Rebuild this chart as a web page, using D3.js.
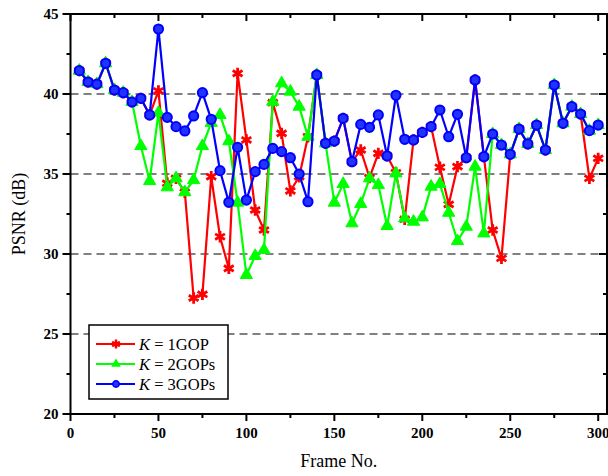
<!DOCTYPE html>
<html>
<head>
<meta charset="utf-8">
<script src="https://cdn.jsdelivr.net/npm/d3@7"></script>
<style>
  html, body { margin: 0; padding: 0; background: #fff; }
  svg { display: block; }
</style>
</head>
<body>
<svg id="chart" width="608" height="476"></svg>
<script>
const frames = [5,10,15,20,25,30,35,40,45,50,55,60,65,70,75,80,85,90,95,100,
  105,110,115,120,125,130,135,140,145,150,155,160,165,170,175,180,185,190,195,200,
  205,210,215,220,225,230,235,240,245,250,255,260,265,270,275,280,285,290,295,300];

const k1 = [41.46,40.75,40.62,41.92,40.25,40.08,39.5,39.73,38.69,40.19,
  34.42,34.73,33.86,27.25,27.48,34.83,31.08,29.1,41.29,37.13,
  32.75,31.5,39.46,37.54,33.94,34.83,37.33,41.19,36.92,37.06,
  38.48,35.77,36.5,34.77,36.29,36.13,35.08,32.17,37.13,37.6,
  37.96,35.42,33.1,35.46,36.02,40.88,36.08,31.5,29.73,36.23,
  37.81,36.88,38.06,36.5,40.56,38.17,39.21,38.75,34.73,35.98];

const k2 = [41.46,40.75,40.62,41.92,40.25,40.08,39.5,36.75,34.56,38.83,
  34.17,34.73,33.86,34.62,36.75,38.2,38.69,37.05,33.21,28.69,
  29.88,30.25,39.52,40.67,40.15,39.21,37.33,41.19,36.92,33.21,
  34.38,31.92,33.13,34.73,34.31,31.75,35.04,32.23,32.02,32.29,
  34.21,34.38,32.58,30.81,31.71,35.46,31.29,37.5,36.81,36.23,
  37.81,36.88,38.06,36.5,40.56,38.17,39.21,38.75,37.71,38.06];

const k3 = [41.46,40.75,40.62,41.92,40.25,40.08,39.5,39.73,38.69,44.06,
  38.54,37.96,37.69,38.63,40.08,38.42,35.21,33.23,36.67,33.37,
  35.15,35.6,36.6,36.4,36.02,35.0,33.27,41.19,36.92,37.06,
  38.48,35.77,38.1,37.92,38.69,36.13,39.92,37.17,37.13,37.6,
  37.96,39.0,37.33,38.73,36.02,40.88,36.08,37.5,36.81,36.23,
  37.81,36.88,38.06,36.5,40.56,38.17,39.21,38.75,37.71,38.06];

const xTickLabels = [0,50,100,150,200,250,300];
const xMinorTicks = [25,75,125,175,225,275];
const yTickLabels = [20,25,30,35,40,45];
const yMinorTicks = [22.5,27.5,32.5,37.5,42.5];
const gridValues = [25,30,35,40];
const seriesNames = ["1GOP","2GOPs","3GOPs"];
const seriesColors = ["#ff0000","#00ff00","#0000ff"];
const xTitle = "Frame No.";
const yTitle = "PSNR (dB)";

const svg = d3.select("#chart");
const L = 70.5, R = 607, T = 14, B = 414;
const x = d3.scaleLinear().domain([0,305]).range([L,R]);
const y = d3.scaleLinear().domain([20,45]).range([B,T]);
const serif = "Liberation Serif, Times New Roman, serif";

// grid
svg.append("g").selectAll("line").data(gridValues).join("line")
  .attr("x1", L).attr("x2", R)
  .attr("y1", d => y(d)).attr("y2", d => y(d))
  .attr("stroke", "#808080").attr("stroke-width", 2)
  .attr("stroke-dasharray", "8,5");

// series
const seriesData = [k1,k2,k3];
const line = d3.line().x((d,i) => x(frames[i])).y(d => y(d));
seriesData.forEach((vals, si) => {
  const g = svg.append("g");
  g.append("path").datum(vals).attr("d", line)
    .attr("fill","none").attr("stroke", seriesColors[si]).attr("stroke-width", 2.2)
    .attr("stroke-linejoin","round");
  const pts = g.selectAll("g.m").data(vals).join("g")
    .attr("transform", (d,i) => `translate(${x(frames[i])},${y(d)})`);
  if (si === 0) {
    pts.append("path").attr("d", d3.symbol(d3.symbolAsterisk, 90)())
      .attr("fill","none").attr("stroke", seriesColors[0]).attr("stroke-width", 2.8);
  } else if (si === 1) {
    pts.append("path").attr("d", d3.symbol(d3.symbolTriangle, 65)())
      .attr("fill", seriesColors[1]).attr("stroke", seriesColors[1]).attr("stroke-width", 1);
  } else {
    pts.append("circle").attr("r", 4.6)
      .attr("fill", "#2233ff").attr("stroke", seriesColors[2]).attr("stroke-width", 2);
  }
});

// axes frame
const ax = svg.append("g").attr("stroke","#000").attr("stroke-width",2).attr("fill","none");
ax.append("rect").attr("x", L).attr("y", T).attr("width", R-L).attr("height", B-T);

// ticks
const xt = svg.append("g").attr("stroke","#000").attr("stroke-width",2);
xTickLabels.forEach(v => {
  xt.append("line").attr("x1",x(v)).attr("x2",x(v)).attr("y1",B).attr("y2",B+7);
  xt.append("line").attr("x1",x(v)).attr("x2",x(v)).attr("y1",T).attr("y2",T+7);
});
xMinorTicks.forEach(v => {
  xt.append("line").attr("x1",x(v)).attr("x2",x(v)).attr("y1",B).attr("y2",B+4);
  xt.append("line").attr("x1",x(v)).attr("x2",x(v)).attr("y1",T).attr("y2",T+4);
});
yTickLabels.forEach(v => {
  xt.append("line").attr("x1",L-8).attr("x2",L).attr("y1",y(v)).attr("y2",y(v));
  xt.append("line").attr("x1",R-8).attr("x2",R).attr("y1",y(v)).attr("y2",y(v));
});
yMinorTicks.forEach(v => {
  xt.append("line").attr("x1",L-4).attr("x2",L).attr("y1",y(v)).attr("y2",y(v));
  xt.append("line").attr("x1",R-4).attr("x2",R).attr("y1",y(v)).attr("y2",y(v));
});

// tick labels
svg.append("g").selectAll("text").data(xTickLabels).join("text")
  .attr("x", d => x(d)).attr("y", B + 24)
  .attr("text-anchor","middle").attr("font-family", serif)
  .attr("font-weight","bold").attr("font-size", 15).text(d => d);
svg.append("g").selectAll("text").data(yTickLabels).join("text")
  .attr("x", L - 12).attr("y", d => y(d)).attr("dy","0.35em")
  .attr("text-anchor","end").attr("font-family", serif)
  .attr("font-weight","bold").attr("font-size", 15).text(d => d);

// axis titles
svg.append("text").attr("x", (L+R)/2).attr("y", 467)
  .attr("text-anchor","middle").attr("font-family", serif).attr("font-size", 18)
  .text(xTitle);
svg.append("text").attr("transform", `translate(25,${(T+B)/2}) rotate(-90)`)
  .attr("text-anchor","middle").attr("font-family", serif).attr("font-size", 18)
  .text(yTitle);

// legend
const lg = svg.append("g");
lg.append("rect").attr("x", 89).attr("y", 325).attr("width", 139).attr("height", 74)
  .attr("fill","#fff").attr("stroke","#000").attr("stroke-width",1.5);
seriesNames.forEach((name, i) => {
  const yy = 344 + i*20;
  lg.append("line").attr("x1",96).attr("x2",135).attr("y1",yy).attr("y2",yy)
    .attr("stroke", seriesColors[i]).attr("stroke-width", 2.2);
  const m = lg.append("g").attr("transform", `translate(116,${yy})`);
  if (i === 0) m.append("path").attr("d", d3.symbol(d3.symbolAsterisk, 55)())
      .attr("fill","none").attr("stroke", seriesColors[0]).attr("stroke-width", 2.4);
  else if (i === 1) m.append("path").attr("d", d3.symbol(d3.symbolTriangle, 40)())
      .attr("fill", seriesColors[1]);
  else m.append("circle").attr("r", 3.2).attr("fill","#2233ff").attr("stroke", seriesColors[2]).attr("stroke-width",1.5);
  const t = lg.append("text").attr("x", 139).attr("y", yy).attr("dy","0.35em")
    .attr("font-family", serif).attr("font-size", 16.5);
  t.append("tspan").attr("font-style","italic").text("K");
  t.append("tspan").text(" = " + name);
});
</script>
</body>
</html>
